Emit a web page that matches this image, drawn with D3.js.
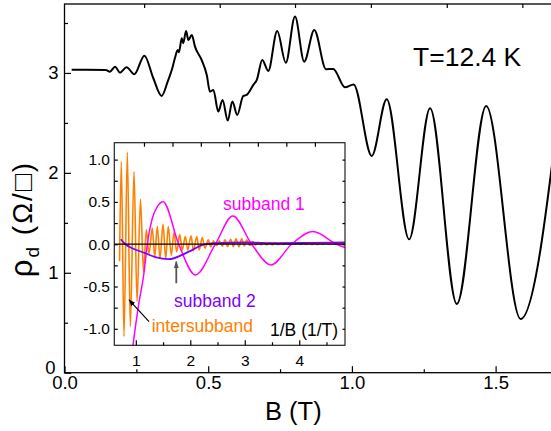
<!DOCTYPE html>
<meta charset="utf-8">
<style>
  body { margin: 0; background: #fff; }
  svg { display: block; font-family: Arial, "Liberation Sans", sans-serif; }
</style>
<script src="https://cdn.jsdelivr.net/npm/d3@7"></script>
<svg width="551" height="431"></svg>
<script>
// main trace, rho_d against B
var mainB = [0.025, 0.144, 0.158, 0.176, 0.193, 0.216, 0.243, 0.278, 0.309, 0.338,
  0.359, 0.375, 0.384, 0.394, 0.398, 0.408, 0.413, 0.423, 0.431, 0.443,
  0.454, 0.477, 0.495, 0.506, 0.518, 0.535, 0.550, 0.568, 0.584, 0.601,
  0.622, 0.634, 0.657, 0.669, 0.688, 0.709, 0.740, 0.770, 0.802, 0.834,
  0.869, 0.910, 0.935, 0.976, 1.006, 1.069, 1.121, 1.199, 1.272, 1.365,
  1.467, 1.587, 1.724];
var mainRho = [3.033, 3.030, 3.013, 3.063, 3.003, 3.057, 2.987, 3.173, 2.947, 2.770,
  2.913, 3.047, 3.147, 3.230, 3.207, 3.347, 3.297, 3.420, 3.330, 3.380,
  3.263, 3.130, 2.980, 2.813, 2.830, 2.613, 2.730, 2.523, 2.713, 2.580,
  2.770, 2.780, 2.880, 2.930, 3.130, 3.020, 3.420, 3.103, 3.564, 3.113,
  3.430, 3.037, 3.040, 2.857, 2.885, 2.169, 2.737, 1.335, 2.647, 0.688,
  2.670, 0.538, 2.730];

// inset: components against 1/B
var sub1InvB = [0.80, 0.949, 1.05, 1.15, 1.211, 1.303, 1.394, 1.50, 1.787, 2.094,
  2.46, 2.78, 3.127, 3.48, 3.86, 4.25, 4.686, 4.84];
var sub1Val = [-2.0, -1.19, -0.72, -0.34, 0.0, 0.307, 0.444, 0.503, 0.0, -0.363,
  0.0, 0.334, 0.0, -0.245, 0.0, 0.149, 0.0, -0.04];

var sub2InvB = [0.723, 0.81, 0.934, 1.176, 1.36, 1.606, 1.85, 2.04, 2.225, 2.4,
  3.0, 3.6, 4.2, 4.84];
var sub2Val = [0.059, 0.0, -0.047, -0.106, -0.154, -0.177, -0.126, -0.067, -0.008, 0.01,
  0.02, 0.012, 0.015, 0.02];

var interInvB = [0.701, 0.734, 0.783, 0.844, 0.899, 0.967, 1.022, 1.086, 1.141, 1.193,
  1.242, 1.303, 1.347, 1.394, 1.444, 1.499, 1.549, 1.596, 1.651, 1.701,
  1.750, 1.806, 1.853, 1.908, 1.954, 2.013, 2.059, 2.117, 2.165, 2.220,
  2.270, 2.330, 2.374, 2.426, 2.484, 2.532, 2.587, 2.637, 2.686, 2.741,
  2.789, 2.839, 2.894, 2.943, 2.991, 3.035, 3.095, 3.145, 3.200, 3.248,
  3.300, 3.352, 3.404, 3.455, 3.507, 3.559, 3.611, 3.663, 3.714, 3.766,
  3.818, 3.870, 3.922, 3.974, 4.025, 4.077, 4.129, 4.181, 4.233, 4.285,
  4.336, 4.388, 4.440, 4.492, 4.544, 4.596, 4.647, 4.699, 4.751, 4.803,
  4.84];
var interVal = [-0.2, 0.976, -1.092, 1.087, -0.974, 0.858, -0.678, 0.53, -0.33, 0.17,
  -0.11, 0.19, -0.15, 0.21, -0.17, 0.235, -0.17, 0.21, -0.13, 0.14,
  -0.09, 0.115, -0.07, 0.09, -0.067, 0.098, -0.079, 0.09, -0.067, 0.078,
  -0.047, 0.051, -0.032, 0.039, -0.016, 0.039, -0.024, 0.051, -0.028, 0.059,
  -0.028, 0.063, -0.032, 0.063, -0.020, 0.051, -0.016, 0.031, -0.008, 0.024,
  -0.006, 0.018, -0.008, 0.020, -0.008, 0.018, -0.006, 0.014, -0.004, 0.012,
  -0.002, 0.010, 0.0, 0.010, -0.002, 0.012, -0.004, 0.014, -0.004, 0.014,
  -0.004, 0.012, -0.002, 0.010, 0.0, 0.008, 0.0, 0.008, 0.002, 0.006,
  0.004];

var zeroInvB = [0.605, 4.84];
var zeroVal = [0, 0];

// tick values
var mainXMajor = [0, 0.5, 1.0, 1.5];
var mainXMinor = [0.25, 0.75, 1.25];
var mainTopTicks = [0.277, 0.540, 0.802, 1.066, 1.330, 1.593];
var mainYMajor = [0, 1, 2, 3];
var mainYMinor = [0.5, 1.5, 2.5, 3.5];
var insXMajor = [1, 2, 3, 4];
var insXMinor = [1.5, 2.5, 3.5, 4.5];
var insTopTicks = [1.15, 1.673, 2.193, 2.713, 3.24, 3.763, 4.287];
var insYMajor = [-1.0, -0.5, 0.0, 0.5, 1.0];
var insYMinor = [-0.75, -0.25, 0.25, 0.75];

var svg = d3.select("svg");

var x = d3.scaleLinear().domain([0, 1.70]).range([64.5, 553.1]);
var y = d3.scaleLinear().domain([0, 3.69]).range([372.7, 4]);

var xi = d3.scaleLinear().domain([0.605, 4.84]).range([114.3, 345]);
var yi = d3.scaleLinear().domain([-1.195, 1.2]).range([345.3, 142.7]);

function zip(a, b) { return a.map(function (d, i) { return [d, b[i]]; }); }

function ticks(g, axis) {
    g.call(axis);
    g.select(".domain").remove();
    g.selectAll("line").attr("stroke", "#000").attr("stroke-width", 1.2);
}

// main frame and axes
svg.append("rect")
    .attr("x", x.range()[0]).attr("y", y.range()[1])
    .attr("width", x.range()[1] - x.range()[0])
    .attr("height", y.range()[0] - y.range()[1])
    .attr("fill", "none").attr("stroke", "#000").attr("stroke-width", 1.3);

var gx = svg.append("g").attr("transform", "translate(0," + y.range()[0] + ")");
ticks(gx, d3.axisBottom(x).tickValues(mainXMajor).tickSize(-6.5).tickPadding(3)
    .tickFormat(d3.format(".1f")));
gx.selectAll("text").attr("font-size", 18.5).attr("font-family", null).attr("fill", "#000");
ticks(svg.append("g").attr("transform", "translate(0," + y.range()[0] + ")"),
    d3.axisBottom(x).tickValues(mainXMinor).tickSize(-3.5).tickFormat(""));
ticks(svg.append("g").attr("transform", "translate(0," + y.range()[1] + ")"),
    d3.axisTop(x).tickValues(mainTopTicks).tickSize(-4).tickFormat(""));

var gy = svg.append("g").attr("transform", "translate(" + x.range()[0] + ",0)");
ticks(gy, d3.axisLeft(y).tickValues(mainYMajor).tickSize(-6.5).tickPadding(6)
    .tickFormat(d3.format("d")));
gy.selectAll("text").attr("font-size", 18.5).attr("font-family", null).attr("fill", "#000")
    .attr("dy", function (d) { return d === 0 ? "0.05em" : "0.32em"; })
    .attr("dx", function (d) { return d === 0 ? -3 : 0; });
ticks(svg.append("g").attr("transform", "translate(" + x.range()[0] + ",0)"),
    d3.axisLeft(y).tickValues(mainYMinor).tickSize(-3.5).tickFormat(""));

svg.append("clipPath").attr("id", "clipMain").append("rect")
    .attr("x", x.range()[0]).attr("y", y.range()[1])
    .attr("width", x.range()[1] - x.range()[0])
    .attr("height", y.range()[0] - y.range()[1]);

svg.append("path")
    .datum(zip(mainB, mainRho))
    .attr("clip-path", "url(#clipMain)")
    .attr("fill", "none").attr("stroke", "#000").attr("stroke-width", 2)
    .attr("stroke-linejoin", "round")
    .attr("d", d3.line().x(function (d) { return x(d[0]); }).y(function (d) { return y(d[1]); })
        .curve(d3.curveMonotoneX));

svg.append("text").attr("x", 293.3).attr("y", 420).attr("text-anchor", "middle")
    .attr("font-size", 25.5).text("B (T)");

var yl = svg.append("text").attr("transform", "translate(32,219) rotate(-90)")
    .attr("text-anchor", "middle").attr("font-size", 28).attr("letter-spacing", 2);
yl.append("tspan").attr("font-size", 31).text("ρ");
yl.append("tspan").attr("font-size", 19).attr("dy", 7).text("d");
yl.append("tspan").attr("dy", -7).text(" (Ω/□)");

svg.append("text").attr("x", 413).attr("y", 66).attr("font-size", 26.5).text("T=12.4 K");

// inset
var ins = svg.append("g");
ins.append("rect")
    .attr("x", xi.range()[0]).attr("y", yi.range()[1])
    .attr("width", xi.range()[1] - xi.range()[0])
    .attr("height", yi.range()[0] - yi.range()[1])
    .attr("fill", "#fff");

svg.append("clipPath").attr("id", "clipIns").append("rect")
    .attr("x", xi.range()[0]).attr("y", yi.range()[1])
    .attr("width", xi.range()[1] - xi.range()[0])
    .attr("height", yi.range()[0] - yi.range()[1]);

var lineI = d3.line().x(function (d) { return xi(d[0]); }).y(function (d) { return yi(d[1]); })
    .curve(d3.curveMonotoneX);

var series = [
    { data: zip(interInvB, interVal), color: "#ff8000", w: 1.6 },
    { data: zip(sub1InvB, sub1Val), color: "#ff00ff", w: 1.5 },
    { data: zip(sub2InvB, sub2Val), color: "#7f00ff", w: 1.8 },
    { data: zip(zeroInvB, zeroVal), color: "#000", w: 1.3 }
];
ins.selectAll("path.s").data(series).enter().append("path")
    .attr("class", "s")
    .attr("clip-path", "url(#clipIns)")
    .attr("fill", "none")
    .attr("stroke", function (d) { return d.color; })
    .attr("stroke-width", function (d) { return d.w; })
    .attr("stroke-linejoin", "round")
    .attr("d", function (d) { return lineI(d.data); });

ins.append("rect")
    .attr("x", xi.range()[0]).attr("y", yi.range()[1])
    .attr("width", xi.range()[1] - xi.range()[0])
    .attr("height", yi.range()[0] - yi.range()[1])
    .attr("fill", "none").attr("stroke", "#222").attr("stroke-width", 1.2);

var ixg = ins.append("g").attr("transform", "translate(0," + yi.range()[0] + ")");
ticks(ixg, d3.axisBottom(xi).tickValues(insXMajor).tickSize(-5).tickPadding(9.5)
    .tickFormat(d3.format("d")));
ixg.selectAll("text").attr("font-size", 15.5).attr("font-family", null).attr("fill", "#000");
ticks(ins.append("g").attr("transform", "translate(0," + yi.range()[0] + ")"),
    d3.axisBottom(xi).tickValues(insXMinor).tickSize(-3).tickFormat(""));
ticks(ins.append("g").attr("transform", "translate(0," + yi.range()[1] + ")"),
    d3.axisTop(xi).tickValues(insTopTicks).tickSize(-4).tickFormat(""));

var iyg = ins.append("g").attr("transform", "translate(" + xi.range()[0] + ",0)");
ticks(iyg, d3.axisLeft(yi).tickValues(insYMajor).tickSize(-3.5).tickPadding(4.3)
    .tickFormat(function (d) { return d3.format(".1f")(d).replace("\u2212", "-"); }));
iyg.selectAll("text").attr("font-size", 15.5).attr("font-family", null).attr("fill", "#000");
ticks(ins.append("g").attr("transform", "translate(" + xi.range()[0] + ",0)"),
    d3.axisLeft(yi).tickValues(insYMinor).tickSize(-3.5).tickFormat(""));
ticks(ins.append("g").attr("transform", "translate(" + xi.range()[1] + ",0)"),
    d3.axisRight(yi).tickValues(insYMajor.concat(insYMinor)).tickSize(-2.5).tickFormat(""));

// annotations
var defs = svg.append("defs");
[["arrBlack", "#000"], ["arrGray", "#555"]].forEach(function (m) {
    defs.append("marker").attr("id", m[0])
        .attr("viewBox", "0 0 10 10").attr("refX", 9).attr("refY", 5)
        .attr("markerWidth", 7).attr("markerHeight", 7).attr("orient", "auto")
        .attr("markerUnits", "userSpaceOnUse")
        .append("path").attr("d", "M0,1.5L10,5L0,8.5z").attr("fill", m[1]);
});

ins.append("line")
    .attr("x1", xi(1.243)).attr("y1", yi(-0.915))
    .attr("x2", xi(0.875)).attr("y2", yi(-0.658))
    .attr("stroke", "#000").attr("stroke-width", 1.2)
    .attr("marker-end", "url(#arrBlack)");
ins.append("line")
    .attr("x1", xi(1.743)).attr("y1", yi(-0.461))
    .attr("x2", xi(1.743)).attr("y2", yi(-0.206))
    .attr("stroke", "#555").attr("stroke-width", 1.8)
    .attr("marker-end", "url(#arrGray)");

ins.append("text").attr("x", 223).attr("y", 210).attr("font-size", 17.5)
    .attr("fill", "#ff00ff").text("subband 1");
ins.append("text").attr("x", 174).attr("y", 307).attr("font-size", 17.5)
    .attr("fill", "#7f00ff").text("subband 2");
ins.append("text").attr("x", 151.7).attr("y", 332).attr("font-size", 17.5)
    .attr("fill", "#ff8000").text("intersubband");
ins.append("text").attr("x", 270).attr("y", 336).attr("font-size", 17.5)
    .attr("fill", "#000").text("1/B (1/T)");
</script>
